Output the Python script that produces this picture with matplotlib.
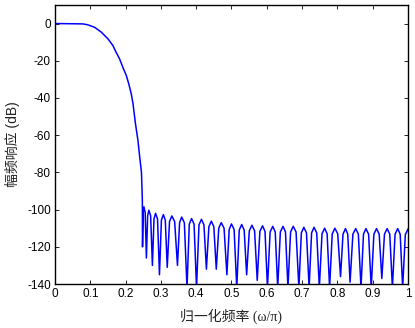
import numpy as np
import matplotlib
matplotlib.use('Agg')
import matplotlib.pyplot as plt
from matplotlib.ticker import FormatStrFormatter

plt.rcParams['axes.unicode_minus'] = False

## Passband and transition band ##
pass_f  = [0.0, 0.079, 0.093, 0.112, 0.131, 0.150, 0.164, 0.173, 0.183, 0.192,
           0.202, 0.209, 0.216, 0.221, 0.228, 0.235, 0.240, 0.245, 0.2475, 0.248]
pass_db = [0.0, -0.2, -0.7, -2.0, -4.6, -8.2, -11.8, -15.4, -19.0, -23.4,
           -27.9, -32.4, -37.7, -43.0, -53.8, -62.8, -71.7, -80.0, -95.0, -120.0]

## Stopband: nulls, peaks and shoulders of each ripple lobe ##
null_f  = [0.248, 0.259, 0.276, 0.296, 0.318, 0.347, 0.374, 0.401, 0.429, 0.457,
           0.487, 0.515, 0.543, 0.573, 0.602, 0.631, 0.660, 0.691, 0.720, 0.749,
           0.778, 0.809, 0.836, 0.867, 0.896, 0.926, 0.956, 0.985]
null_db = [-120, -126, -130, -135, -131, -130, -142, -142, -132, -132,
           -135, -142, -135, -138, -142, -142, -142, -142, -142, -142,
           -142, -136, -139, -142, -142, -137, -142, -142]
peak_f  = [0.252, 0.266, 0.285, 0.307, 0.331, 0.359, 0.387, 0.415, 0.443, 0.471,
           0.500, 0.529, 0.558, 0.588, 0.617, 0.646, 0.675, 0.705, 0.734, 0.764,
           0.793, 0.823, 0.852, 0.881, 0.911, 0.941, 0.971]
peak_db = [-98.5, -100.3, -102.0, -102.7, -103.4, -104.0, -104.8, -105.2, -106.2, -107.0,
           -107.7, -108.0, -108.4, -108.7, -109.0, -109.0, -109.0, -109.5, -109.5, -110.0,
           -110.0, -110.2, -110.2, -110.2, -110.2, -110.2, -110.2]
shl_f   = [0.250, 0.2625, 0.2805, 0.3015, 0.3245, 0.353, 0.3805, 0.408, 0.436, 0.464,
           0.4935, 0.522, 0.5505, 0.5805, 0.6095, 0.6385, 0.6675, 0.698, 0.727, 0.7565,
           0.7855, 0.816, 0.844, 0.874, 0.9035, 0.9335, 0.9635]
shr_f   = [0.2555, 0.271, 0.2905, 0.3125, 0.339, 0.3665, 0.394, 0.422, 0.450, 0.479,
           0.5075, 0.536, 0.5655, 0.595, 0.624, 0.653, 0.683, 0.7125, 0.7415, 0.771,
           0.801, 0.8295, 0.8595, 0.8885, 0.9185, 0.9485, 0.978]
sh_db   = [-101.5, -103.3, -105.0, -105.7, -106.4, -107.0, -107.8, -108.2, -109.2, -110.0,
           -110.7, -111.0, -111.4, -111.7, -112.0, -112.0, -112.0, -112.5, -112.5, -113.0,
           -113.0, -113.2, -113.2, -113.2, -113.2, -113.2, -113.2]
end_f  = [0.9925, 1.0]
end_db = [-113.5, -110.5]

## Build the trace ##
f = list(pass_f); h = list(pass_db)
for i in range(len(peak_f)):
  f += [shl_f[i], peak_f[i], shr_f[i], null_f[i+1]]
  h += [sh_db[i], peak_db[i], sh_db[i], null_db[i+1]]
f += end_f; h += end_db

## Plot Figure ##
fig = plt.figure(figsize=(4.15, 3.28), dpi=100)
ax = fig.add_axes([0.1325, 0.134, 0.8505, 0.851])
ax.plot(f, h, color='#0000ff', lw=1.1)
ax.set_xlim(0, 1)
ax.set_ylim(-140, 10)
ax.set_xticks(np.arange(0, 1.01, 0.1))
ax.set_yticks(np.arange(-140, 1, 20))
ax.xaxis.set_major_formatter(FormatStrFormatter('%g'))
ax.yaxis.set_major_formatter(FormatStrFormatter('%g'))
ax.tick_params(direction='in', top=True, right=True, length=3, width=0.6,
               labelsize=8.5, pad=3)
for lab in ax.get_xticklabels() + ax.get_yticklabels():
  lab.set_family('Liberation Sans')
for s in ax.spines.values():
  s.set_linewidth(1.0)
ax.set_xlabel('归一化频率 (ω/π)', family=['Liberation Serif', 'Noto Sans CJK SC'],
              fontsize=10, color='#222222', labelpad=6)
ax.set_ylabel('幅频响应 (dB)', family=['Liberation Sans', 'Noto Sans CJK SC'],
              fontsize=10, color='#222222', labelpad=5)
fig.savefig('out.png', dpi=100)
